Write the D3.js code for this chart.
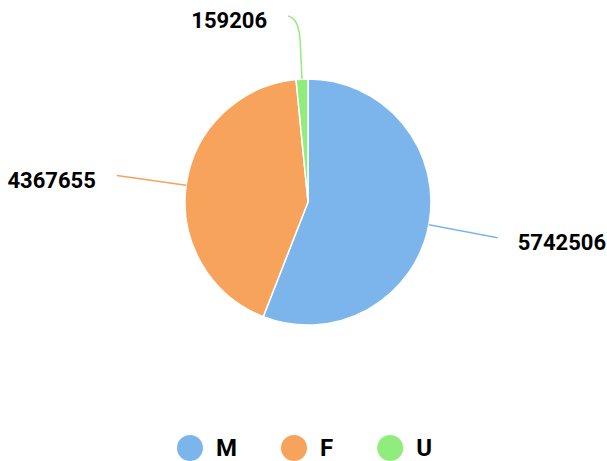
<!DOCTYPE html>
<html><head><meta charset="utf-8">
<script src="https://cdn.jsdelivr.net/npm/d3@7"></script>
<style>html,body{margin:0;padding:0;background:#fff;}svg{display:block;font-family:Roboto,"Noto Sans",sans-serif;}</style>
</head><body>
<svg id="c" width="607" height="461"></svg>
<script>
const categories = ["M", "F", "U"];
const values = [5742506, 4367655, 159206];
const colors = ["#7cb5ec", "#f7a35c", "#90ed7d"];

const W = 607, H = 461, cx = 308, cy = 202, R = 123;
const svg = d3.select("#c");
const g = svg.append("g").attr("transform", `translate(${cx},${cy})`);

const pie = d3.pie().sort(null).value(d => d.v);
const data = pie(categories.map((c, i) => ({c, v: values[i], col: colors[i]})));
const arc = d3.arc().innerRadius(0).outerRadius(R);

g.selectAll("path.slice").data(data).enter().append("path")
  .attr("class", "slice")
  .attr("d", arc)
  .attr("fill", d => d.data.col)
  .attr("stroke", "#fff").attr("stroke-width", 1.5).attr("stroke-linejoin", "round");

const polar = (a, r) => [Math.sin(a) * r, -Math.cos(a) * r];
const minY = 16 - cy;
data.forEach(d => {
  const a = (d.startAngle + d.endAngle) / 2;
  const side = Math.sin(a) >= 0 ? 1 : -1;
  const p1 = polar(a, R);
  let p2 = polar(a, R + 70);
  let path, end;
  if (p2[1] < minY) {
    const t = (minY + 26) / (-Math.cos(a));
    const q = polar(a, t);
    const c = polar(a, (minY + 2) / (-Math.cos(a)));
    end = [c[0] + side * 11, minY];
    path = `M${p1}L${q}Q${c} ${end}`;
  } else {
    end = p2;
    const m = polar(a, R + 30);
    path = `M${p1}Q${m} ${p2}`;
  }
  g.append("path").attr("d", path).attr("fill", "none")
    .attr("stroke", d.data.col).attr("stroke-width", 1.5);
  g.append("text")
    .attr("x", end[0] + side * (side > 0 ? 20 : 21)).attr("y", end[1] + 4.5)
    .attr("text-anchor", side > 0 ? "start" : "end")
    .attr("dominant-baseline", "central")
    .attr("font-size", 22).attr("font-weight", "bold").attr("fill", "#000")
    .text(d3.format("d")(d.data.v));
});

// legend
const lg = svg.append("g");
let x = 0;
categories.forEach((c, i) => {
  const it = lg.append("g").attr("transform", `translate(${x},0)`);
  it.append("circle").attr("cx", 13).attr("cy", 0).attr("r", 13).attr("fill", colors[i]);
  const t = it.append("text").attr("x", 39).attr("y", 0).attr("dominant-baseline", "central")
    .attr("font-size", 24).attr("font-weight", "bold").attr("fill", "#000").text(c);
  const w = t.node().getComputedTextLength();
  x += 39 + w + (i < categories.length - 1 ? 44 : 0);
});
const totalW = x;
lg.attr("transform", `translate(${(W - totalW) / 2 + 1},448)`);
</script>
</body></html>
